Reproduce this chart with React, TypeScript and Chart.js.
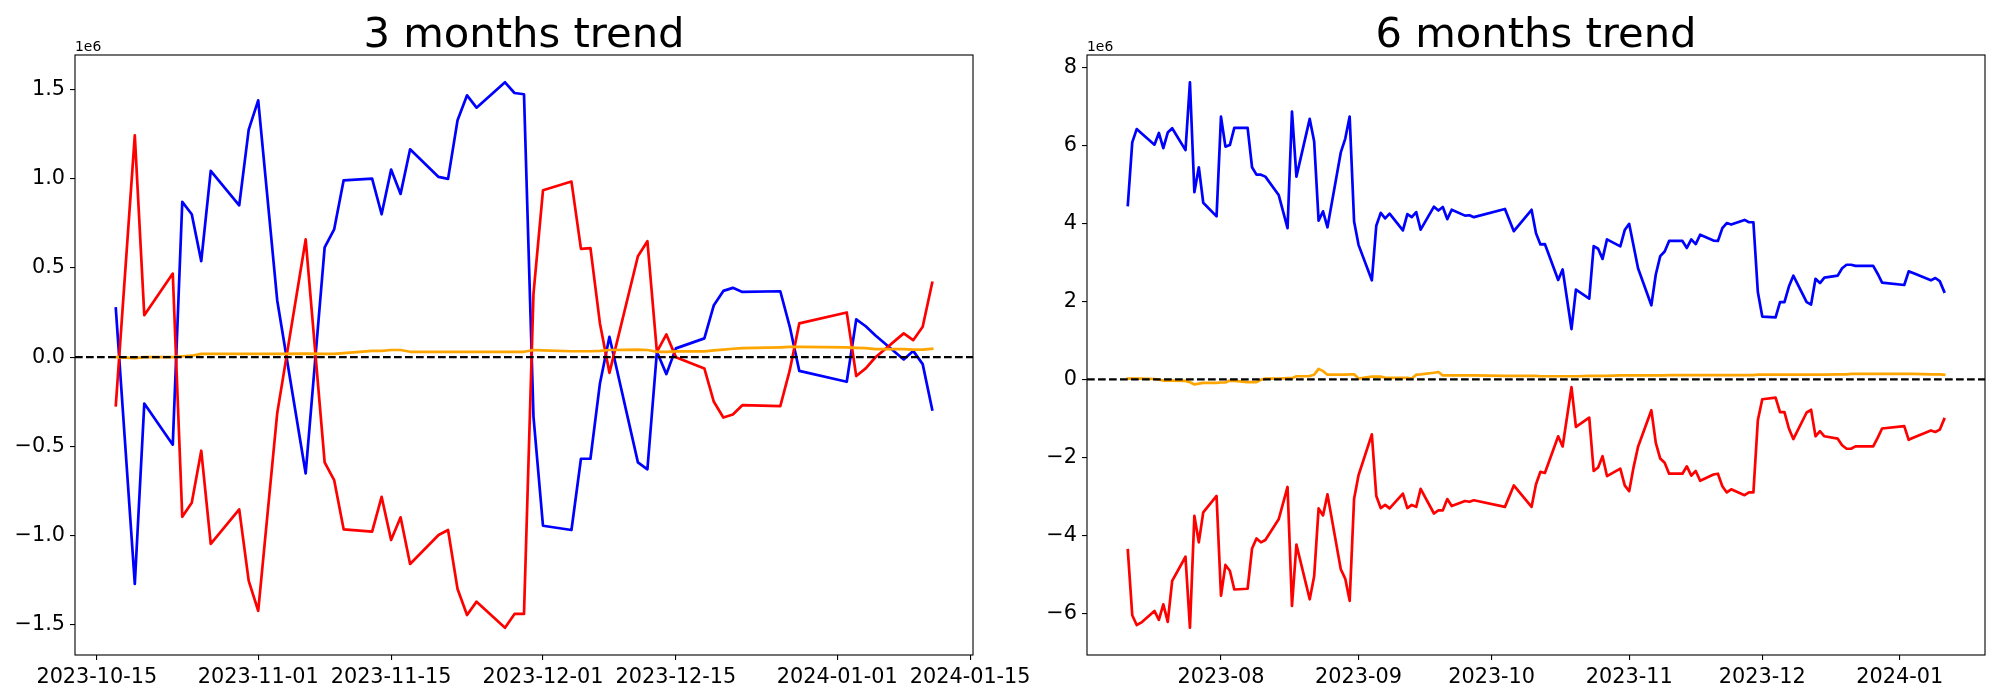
import React, { useEffect, useRef } from "react";
import { Chart, registerables } from "chart.js";

Chart.register(...registerables);

const FONT = '"DejaVu Sans", sans-serif';
const DAY = 86400000;

// ---------- 3 months trend (values in units of 1e6) ----------
const dates3 = [
  "2023-10-17", "2023-10-19", "2023-10-20", "2023-10-23", "2023-10-24", "2023-10-25", "2023-10-26", "2023-10-27", "2023-10-30", "2023-10-31",
  "2023-11-01", "2023-11-03", "2023-11-06", "2023-11-08", "2023-11-09", "2023-11-10", "2023-11-13", "2023-11-14", "2023-11-15", "2023-11-16",
  "2023-11-17", "2023-11-20", "2023-11-21", "2023-11-22", "2023-11-23", "2023-11-24", "2023-11-27", "2023-11-28", "2023-11-29", "2023-11-30",
  "2023-12-01", "2023-12-04", "2023-12-05", "2023-12-06", "2023-12-07", "2023-12-08", "2023-12-11", "2023-12-12", "2023-12-13", "2023-12-14",
  "2023-12-15", "2023-12-18", "2023-12-19", "2023-12-20", "2023-12-21", "2023-12-22", "2023-12-26", "2023-12-27", "2023-12-28",
  "2024-01-02", "2024-01-03", "2024-01-04", "2024-01-05", "2024-01-08", "2024-01-09", "2024-01-10", "2024-01-11",
];
const blue3 = [
  0.272, -1.27, -0.26, -0.49, 0.869, 0.80, 0.537, 1.043, 0.85, 1.274,
  1.438, 0.319, -0.651, 0.614, 0.715, 0.99, 1.0, 0.80, 1.05, 0.914,
  1.164, 1.009, 0.998, 1.326, 1.466, 1.397, 1.539, 1.479, 1.472, -0.334,
  -0.944, -0.968, -0.569, -0.569, -0.147, 0.114, -0.589, -0.628, 0.03, -0.095,
  0.049, 0.105, 0.291, 0.371, 0.388, 0.365, 0.369, 0.17, -0.077,
  -0.138, 0.211, 0.173, 0.123, -0.013, 0.035, -0.039, -0.293,
];
const red3 = [
  -0.269, 1.242, 0.235, 0.468, -0.894, -0.815, -0.524, -1.046, -0.852, -1.253,
  -1.42, -0.315, 0.659, -0.589, -0.688, -0.964, -0.977, -0.782, -1.024, -0.897,
  -1.158, -0.996, -0.968, -1.298, -1.444, -1.369, -1.515, -1.438, -1.438, 0.356,
  0.934, 0.983, 0.606, 0.61, 0.189, -0.088, 0.565, 0.649, 0.03, 0.127,
  0.0, -0.063, -0.25, -0.338, -0.321, -0.269, -0.274, -0.073, 0.189,
  0.25, -0.106, -0.063, -0.002, 0.133, 0.095, 0.17, 0.416,
];
const orange3 = [
  0.0, -0.005, 0.0, 0.0, 0.005, 0.008, 0.018, 0.018, 0.018, 0.018,
  0.018, 0.018, 0.02, 0.018, 0.018, 0.022, 0.035, 0.035, 0.04, 0.04,
  0.03, 0.03, 0.03, 0.03, 0.03, 0.03, 0.03, 0.03, 0.03, 0.04,
  0.038, 0.033, 0.033, 0.033, 0.035, 0.04, 0.042, 0.04, 0.03, 0.03,
  0.032, 0.032, 0.038, 0.042, 0.047, 0.05, 0.055, 0.057, 0.057,
  0.055, 0.052, 0.05, 0.045, 0.045, 0.042, 0.042, 0.047,
];
const xTicks3 = ["2023-10-15", "2023-11-01", "2023-11-15", "2023-12-01", "2023-12-15", "2024-01-01", "2024-01-15"];
const yTicks3 = [-1.5, -1.0, -0.5, 0.0, 0.5, 1.0, 1.5];

// ---------- 6 months trend (values in units of 1e6) ----------
const dates6 = [
  "2023-07-11", "2023-07-12", "2023-07-13", "2023-07-14", "2023-07-17", "2023-07-18", "2023-07-19", "2023-07-20", "2023-07-21", "2023-07-24",
  "2023-07-25", "2023-07-26", "2023-07-27", "2023-07-28", "2023-07-31",
  "2023-08-01", "2023-08-02", "2023-08-03", "2023-08-04", "2023-08-07", "2023-08-08", "2023-08-09", "2023-08-10", "2023-08-11", "2023-08-14",
  "2023-08-16", "2023-08-17", "2023-08-18", "2023-08-21", "2023-08-22", "2023-08-23", "2023-08-24", "2023-08-25", "2023-08-28", "2023-08-29",
  "2023-08-30", "2023-08-31",
  "2023-09-01", "2023-09-04", "2023-09-05", "2023-09-06", "2023-09-07", "2023-09-08", "2023-09-11", "2023-09-12", "2023-09-13", "2023-09-14",
  "2023-09-15", "2023-09-18", "2023-09-19", "2023-09-20", "2023-09-21", "2023-09-22", "2023-09-25", "2023-09-26", "2023-09-27",
  "2023-10-04", "2023-10-06", "2023-10-10", "2023-10-11", "2023-10-12", "2023-10-13", "2023-10-16", "2023-10-17", "2023-10-19", "2023-10-20",
  "2023-10-23", "2023-10-24", "2023-10-25", "2023-10-26", "2023-10-27", "2023-10-30", "2023-10-31",
  "2023-11-01", "2023-11-02", "2023-11-03", "2023-11-06", "2023-11-07", "2023-11-08", "2023-11-09", "2023-11-10", "2023-11-13", "2023-11-14",
  "2023-11-15", "2023-11-16", "2023-11-17", "2023-11-20", "2023-11-21", "2023-11-22", "2023-11-23", "2023-11-24", "2023-11-27", "2023-11-28",
  "2023-11-29", "2023-11-30",
  "2023-12-01", "2023-12-04", "2023-12-05", "2023-12-06", "2023-12-07", "2023-12-08", "2023-12-11", "2023-12-12", "2023-12-13", "2023-12-14",
  "2023-12-15", "2023-12-18", "2023-12-19", "2023-12-20", "2023-12-21", "2023-12-22", "2023-12-26", "2023-12-27", "2023-12-28",
  "2024-01-02", "2024-01-03", "2024-01-04", "2024-01-08", "2024-01-09", "2024-01-10", "2024-01-11",
];
const blue6 = [
  4.47, 6.08, 6.42, 6.32, 6.02, 6.32, 5.93, 6.33, 6.44, 5.88,
  7.62, 4.80, 5.44, 4.53, 4.18,
  6.74, 5.97, 6.01, 6.45, 6.45, 5.44, 5.25, 5.25, 5.20, 4.73,
  3.88, 6.87, 5.20, 6.68, 6.10, 4.07, 4.31, 3.90, 5.82, 6.17,
  6.74, 4.05,
  3.45, 2.54, 3.94, 4.27, 4.13, 4.25, 3.82, 4.24, 4.16, 4.29,
  3.84, 4.43, 4.33, 4.42, 4.11, 4.35, 4.20, 4.21, 4.16,
  4.37, 3.80, 4.35, 3.75, 3.46, 3.47, 2.55, 2.82, 1.29, 2.30,
  2.07, 3.42, 3.35, 3.09, 3.59, 3.41, 3.83,
  3.99, 3.42, 2.85, 1.90, 2.69, 3.16, 3.28, 3.55, 3.55, 3.37,
  3.59, 3.47, 3.71, 3.56, 3.55, 3.88, 4.01, 3.97, 4.09, 4.03,
  4.03, 2.24,
  1.61, 1.59, 1.98, 1.98, 2.38, 2.66, 1.98, 1.92, 2.58, 2.47,
  2.61, 2.66, 2.85, 2.94, 2.94, 2.91, 2.91, 2.71, 2.48,
  2.42, 2.77, 2.73, 2.54, 2.60, 2.52, 2.25,
];
const red6 = [
  -4.38, -6.05, -6.30, -6.24, -5.94, -6.17, -5.77, -6.22, -5.17, -4.55,
  -6.37, -3.50, -4.18, -3.41, -2.99,
  -5.55, -4.76, -4.91, -5.39, -5.37, -4.34, -4.08, -4.18, -4.12, -3.59,
  -2.76, -5.81, -4.24, -5.64, -5.05, -3.31, -3.49, -2.95, -4.87, -5.11,
  -5.68, -3.06,
  -2.46, -1.41, -2.99, -3.30, -3.22, -3.31, -2.93, -3.30, -3.22, -3.27,
  -2.81, -3.44, -3.36, -3.36, -3.07, -3.25, -3.12, -3.14, -3.10,
  -3.27, -2.72, -3.27, -2.69, -2.37, -2.40, -1.46, -1.72, -0.20, -1.22,
  -0.98, -2.35, -2.26, -1.97, -2.48, -2.29, -2.72,
  -2.87, -2.25, -1.73, -0.79, -1.63, -2.03, -2.14, -2.42, -2.42, -2.23,
  -2.47, -2.35, -2.60, -2.44, -2.42, -2.74, -2.90, -2.82, -2.97, -2.90,
  -2.90, -1.05,
  -0.51, -0.47, -0.84, -0.84, -1.26, -1.53, -0.85, -0.78, -1.46, -1.33,
  -1.46, -1.52, -1.69, -1.78, -1.78, -1.72, -1.72, -1.50, -1.26,
  -1.20, -1.55, -1.50, -1.31, -1.35, -1.29, -1.02,
];
const orange6 = [
  0.02, 0.02, 0.02, 0.02, 0.01, -0.01, -0.03, -0.03, -0.03, -0.04,
  -0.07, -0.13, -0.11, -0.09, -0.09,
  -0.08, -0.08, -0.03, -0.04, -0.07, -0.07, -0.07, -0.01, 0.02, 0.02,
  0.03, 0.03, 0.08, 0.085, 0.12, 0.27, 0.21, 0.12, 0.12, 0.12,
  0.13, 0.13,
  0.02, 0.07, 0.07, 0.07, 0.04, 0.04, 0.04, 0.04, 0.02, 0.12,
  0.13, 0.17, 0.19, 0.10, 0.10, 0.10, 0.10, 0.10, 0.10,
  0.09, 0.09, 0.09, 0.09, 0.08, 0.08, 0.08, 0.08, 0.08, 0.08,
  0.09, 0.09, 0.09, 0.09, 0.09, 0.10, 0.10,
  0.10, 0.10, 0.10, 0.10, 0.10, 0.10, 0.10, 0.11, 0.11, 0.11,
  0.11, 0.11, 0.11, 0.11, 0.11, 0.11, 0.11, 0.11, 0.11, 0.11,
  0.11, 0.12,
  0.12, 0.12, 0.12, 0.12, 0.12, 0.12, 0.12, 0.12, 0.12, 0.12,
  0.12, 0.13, 0.13, 0.13, 0.14, 0.14, 0.14, 0.14, 0.14,
  0.14, 0.14, 0.14, 0.13, 0.13, 0.13, 0.12,
];
const xTicks6 = ["2023-08-01", "2023-09-01", "2023-10-01", "2023-11-01", "2023-12-01", "2024-01-01"];
const yTicks6 = [-6, -4, -2, 0, 2, 4, 6, 8];

const toDay = (s: string) => Date.parse(s) / DAY;
const fmtNum = (v: number, dec: number) => {
  const s = Math.abs(v).toFixed(dec);
  return v < 0 ? "\u2212" + s : s;
};

type PanelProps = {
  left: number;
  width: number;
  areaLeft: number;
  areaRight: number;
  title: string;
  dates: string[];
  blue: number[];
  red: number[];
  orange: number[];
  xTicks: string[];
  xLabelLen: number;
  yTicks: number[];
  yDec: number;
};

function Panel(p: PanelProps) {
  const ref = useRef<HTMLCanvasElement>(null);
  useEffect(() => {
    if (!ref.current) return;
    const xs = p.dates.map(toDay);
    const xmin0 = Math.min(...xs);
    const xmax0 = Math.max(...xs);
    const xm = (xmax0 - xmin0) * 0.05;
    const all = [...p.blue, ...p.red, ...p.orange];
    const ymin0 = Math.min(...all);
    const ymax0 = Math.max(...all);
    const ym = (ymax0 - ymin0) * 0.05;
    const mk = (vals: number[]) => xs.map((x, i) => ({ x, y: vals[i] }));

    const decor = {
      id: "decor",
      afterDatasetsDraw(chart: any) {
        const { ctx, chartArea: a, scales } = chart;
        const y0 = scales.y.getPixelForValue(0);
        ctx.save();
        ctx.beginPath();
        ctx.rect(a.left, a.top, a.right - a.left, a.bottom - a.top);
        ctx.clip();
        ctx.setLineDash([7.7, 3.3]);
        ctx.lineWidth = 2.08;
        ctx.strokeStyle = "#000";
        ctx.beginPath();
        ctx.moveTo(a.left, y0);
        ctx.lineTo(a.right, y0);
        ctx.stroke();
        ctx.restore();

        ctx.save();
        ctx.strokeStyle = "#000";
        ctx.lineWidth = 1.1;
        ctx.strokeRect(a.left, a.top, a.right - a.left, a.bottom - a.top);
        ctx.fillStyle = "#000";
        ctx.font = `41.7px ${FONT}`;
        ctx.textAlign = "center";
        ctx.textBaseline = "alphabetic";
        ctx.fillText(p.title, (a.left + a.right) / 2, a.top - 8.3);
        ctx.font = `13.9px ${FONT}`;
        ctx.textAlign = "left";
        ctx.fillText("1e6", a.left, a.top - 4.5);
        ctx.restore();
      },
    };

    const line = (data: number[], color: string, order: number) => ({
      data: mk(data),
      borderColor: color,
      backgroundColor: color,
      borderWidth: 2.7,
      pointRadius: 0,
      tension: 0,
      fill: false,
      order,
      borderJoinStyle: "round" as const,
      borderCapStyle: "square" as const,
    });

    const chart = new Chart(ref.current, {
      type: "line",
      data: {
        datasets: [line(p.blue, "#0000ff", 3), line(p.red, "#ff0000", 2), line(p.orange, "#ffa500", 1)],
      },
      plugins: [decor],
      options: {
        responsive: false,
        animation: false,
        devicePixelRatio: 1,
        events: [],
        layout: { padding: { left: 0, right: p.width - p.areaRight, top: 55, bottom: 0 } },
        plugins: { legend: { display: false }, tooltip: { enabled: false }, title: { display: false } },
        scales: {
          x: {
            type: "linear",
            min: xmin0 - xm,
            max: xmax0 + xm,
            afterFit: (s: any) => {
              s.height = 45;
            },
            afterBuildTicks: (s: any) => {
              s.ticks = p.xTicks.map((t) => ({ value: toDay(t) }));
            },
            ticks: {
              callback: (v: any) => new Date(Number(v) * DAY).toISOString().slice(0, p.xLabelLen),
              font: { family: FONT, size: 20.8 },
              color: "#000",
              padding: 5,
              maxRotation: 0,
              minRotation: 0,
              autoSkip: false,
            },
            grid: { drawOnChartArea: false, drawTicks: true, tickLength: 5, color: "#000", lineWidth: 1.1 },
            border: { display: false },
          },
          y: {
            type: "linear",
            min: ymin0 - ym,
            max: ymax0 + ym,
            afterFit: (s: any) => {
              s.width = p.areaLeft;
            },
            afterBuildTicks: (s: any) => {
              s.ticks = p.yTicks.map((t) => ({ value: t }));
            },
            ticks: {
              callback: (v: any) => fmtNum(Number(v), p.yDec),
              font: { family: FONT, size: 20.8 },
              color: "#000",
              padding: 5,
              autoSkip: false,
            },
            grid: { drawOnChartArea: false, drawTicks: true, tickLength: 5, color: "#000", lineWidth: 1.1 },
            border: { display: false },
          },
        },
      } as any,
    });
    return () => chart.destroy();
  }, []);
  return (
    <canvas
      ref={ref}
      width={p.width}
      height={700}
      style={{ position: "absolute", left: p.left, top: 0, width: p.width, height: 700 }}
    />
  );
}

export default function App() {
  return (
    <div style={{ position: "absolute", left: 0, top: 0, width: 2000, height: 700, background: "#fff", overflow: "hidden" }}>
      <Panel
        left={0}
        width={1100}
        areaLeft={75}
        areaRight={973}
        title="3 months trend"
        dates={dates3}
        blue={blue3}
        red={red3}
        orange={orange3}
        xTicks={xTicks3}
        xLabelLen={10}
        yTicks={yTicks3}
        yDec={1}
      />
      <Panel
        left={1000}
        width={1000}
        areaLeft={87}
        areaRight={985}
        title="6 months trend"
        dates={dates6}
        blue={blue6}
        red={red6}
        orange={orange6}
        xTicks={xTicks6}
        xLabelLen={7}
        yTicks={yTicks6}
        yDec={0}
      />
    </div>
  );
}
